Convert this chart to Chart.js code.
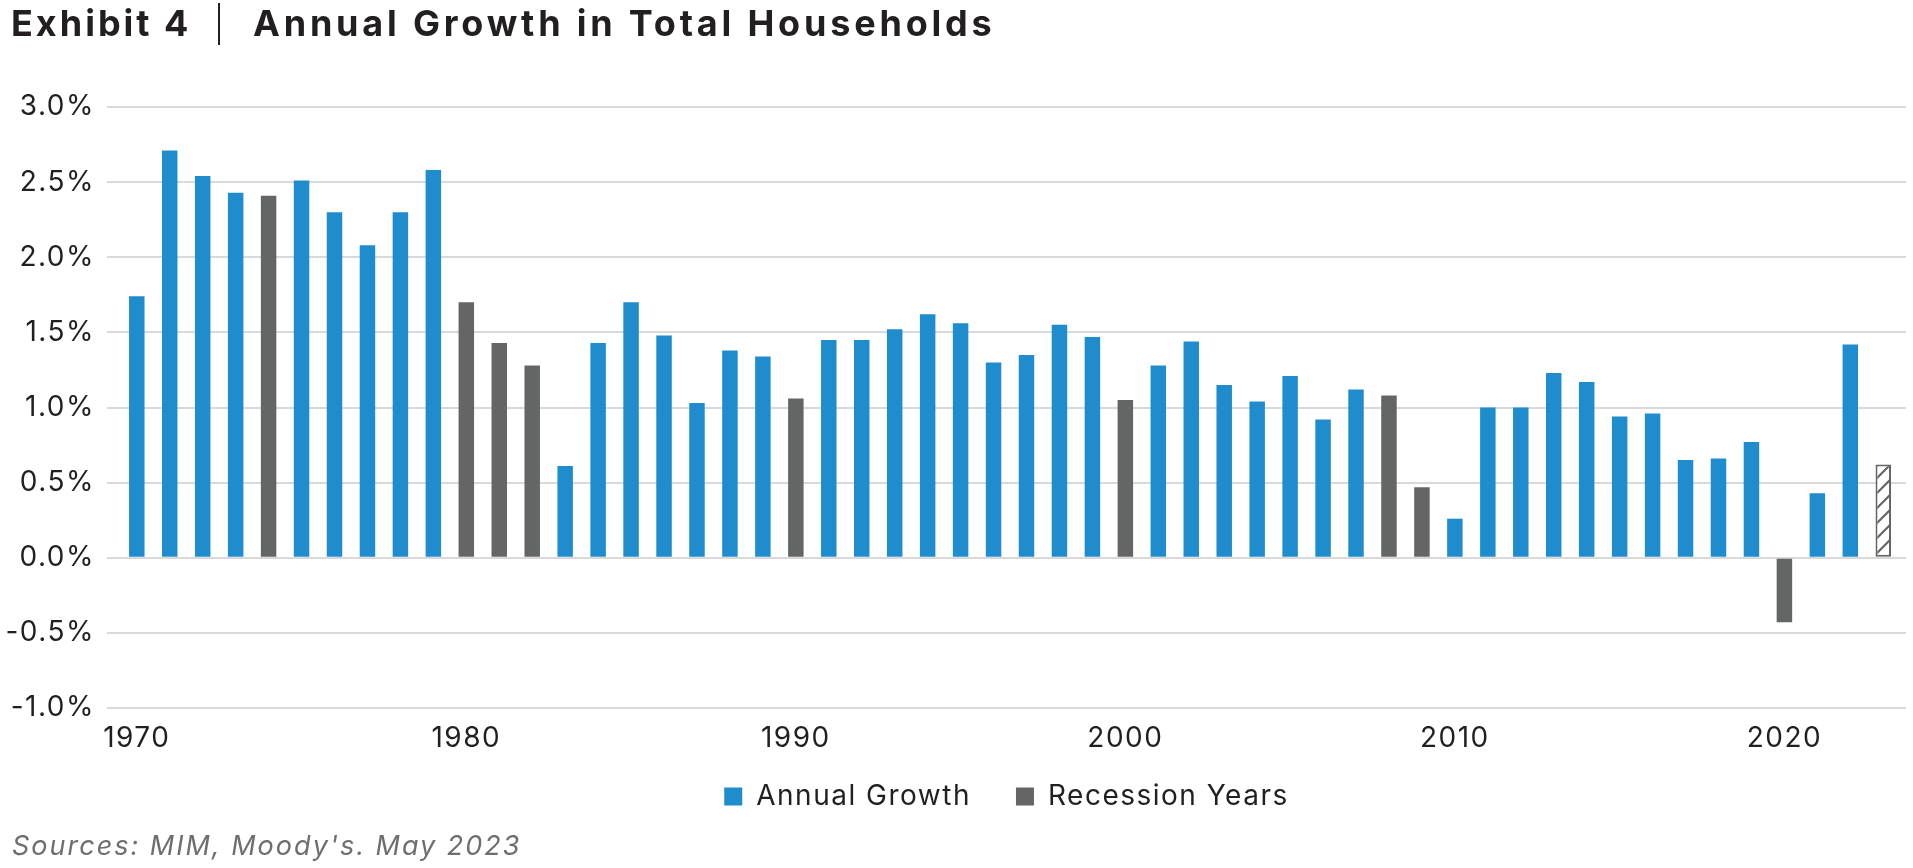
<!DOCTYPE html>
<html>
<head>
<meta charset="utf-8">
<script src="https://cdn.jsdelivr.net/npm/chart.js@4.4.1/dist/chart.umd.min.js"></script>
<style>
  html, body { margin: 0; padding: 0; background: #ffffff; }
  #wrap { position: relative; width: 1913px; height: 868px; overflow: hidden; }
  #chart { position: absolute; left: 0; top: 0; }
  .t { position: absolute; top: 5px; font-family: Inter, sans-serif; font-weight: 700; font-size: 36px; line-height: 36px; color: #231f20; white-space: nowrap; }
  #pipe { position: absolute; left: 218px; top: 3px; width: 2px; height: 42px; font-size: 0; color: transparent; background: #231f20; }
  #src { position: absolute; left: 12px; top: 832px; font-family: Inter, sans-serif; font-style: italic; font-size: 27px; line-height: 27px; letter-spacing: 2px; color: #6d6e71; white-space: nowrap; }
</style>
</head>
<body>
<div id="wrap">
  <canvas id="chart" width="1913" height="868"></canvas>
  <div class="t" id="t1" style="left:11px; letter-spacing:3px;">Exhibit 4</div>
  <div id="pipe">|</div>
  <div class="t" id="t2" style="left:253px; letter-spacing:3.8px;">Annual Growth in Total Households</div>
  <div id="src">Sources: MIM, Moody's. May 2023</div>
</div>
<script>
// ---- data ----
const years = [1970,1971,1972,1973,1974,1975,1976,1977,1978,1979,
               1980,1981,1982,1983,1984,1985,1986,1987,1988,1989,
               1990,1991,1992,1993,1994,1995,1996,1997,1998,1999,
               2000,2001,2002,2003,2004,2005,2006,2007,2008,2009,
               2010,2011,2012,2013,2014,2015,2016,2017,2018,2019,
               2020,2021,2022,2023];
const growth = [1.74,2.71,2.54,2.43,2.41,2.51,2.30,2.08,2.30,2.58,
                1.70,1.43,1.28,0.61,1.43,1.70,1.48,1.03,1.38,1.34,
                1.06,1.45,1.45,1.52,1.62,1.56,1.30,1.35,1.55,1.47,
                1.05,1.28,1.44,1.15,1.04,1.21,0.92,1.12,1.08,0.47,
                0.26,1.00,1.00,1.23,1.17,0.94,0.96,0.65,0.66,0.77,
                -0.43,0.43,1.42,0.62];
const recessionYears = [1974,1980,1981,1982,1990,2000,2008,2009,2020];
const forecastYears = [2023];
const seriesNames = ['Annual Growth', 'Recession Years', 'Forecast'];
const xTickStep = 10;
const yMin = -1.0, yMax = 3.0, yStep = 0.5;

// ---- build datasets ----
const pts = (filterFn) => years.map((y, i) => ({x: y, y: growth[i]})).filter(p => filterFn(p.x));
const annualPts = pts(y => !recessionYears.includes(y) && !forecastYears.includes(y));
const recessionPts = pts(y => recessionYears.includes(y));
const forecastPts = pts(y => forecastYears.includes(y));

// hatch pattern for forecast bar
const T = 15;
const pc = document.createElement('canvas');
pc.width = T; pc.height = T;
const pctx = pc.getContext('2d');
pctx.fillStyle = '#ffffff'; pctx.fillRect(0, 0, T, T);
pctx.strokeStyle = '#646665'; pctx.lineWidth = 2.2;
pctx.beginPath();
pctx.moveTo(0, T); pctx.lineTo(T, 0);
pctx.moveTo(-T/2, T/2); pctx.lineTo(T/2, -T/2);
pctx.moveTo(T/2, T*1.5); pctx.lineTo(T*1.5, T/2);
pctx.stroke();
const hatch = document.getElementById('chart').getContext('2d').createPattern(pc, 'repeat');

const BLUE = '#1f8dcd', GRAY = '#646665', TEXT = '#231f20', GRID = '#d9d9d9';
const FONT = 'Inter';
const SPACING = '1.5px';
const LEGEND_LIFT = 22.5;

const spacingPlugin = {
  id: 'letterSpacing',
  beforeUpdate(chart) { chart.ctx.letterSpacing = SPACING; },
  beforeLayout(chart) { chart.ctx.letterSpacing = SPACING; },
  afterLayout(chart) {
    // lift the legend up so it sits right below the year labels
    if (chart.legend) { chart.legend.top -= LEGEND_LIFT; chart.legend.bottom -= LEGEND_LIFT; }
  },
  beforeDraw(chart) { chart.ctx.letterSpacing = SPACING; }
};

const chart = new Chart(document.getElementById('chart'), {
  type: 'bar',
  data: {
    datasets: [
      { label: seriesNames[0], data: annualPts, backgroundColor: BLUE, borderWidth: 0, grouped: false, barPercentage: 0.47, categoryPercentage: 1.0 },
      { label: seriesNames[1], data: recessionPts, backgroundColor: GRAY, borderWidth: 0, grouped: false, barPercentage: 0.47, categoryPercentage: 1.0 },
      { label: seriesNames[2], data: forecastPts, backgroundColor: hatch, borderColor: GRAY, borderWidth: 2, borderSkipped: false, grouped: false, barPercentage: 0.47, categoryPercentage: 1.0 }
    ]
  },
  options: {
    responsive: false,
    animation: false,
    devicePixelRatio: 1,
    layout: { padding: { left: 0, right: 7, top: 107, bottom: 28 } },
    plugins: {
      legend: {
        position: 'bottom',
        fullSize: false,
        labels: {
          filter: (item) => item.datasetIndex !== 2,
          boxWidth: 18, boxHeight: 18, padding: 45,
          color: TEXT, font: { family: FONT, size: 28 }
        }
      },
      tooltip: { enabled: false },
      title: { display: false }
    },
    scales: {
      x: {
        type: 'linear',
        min: 1969.096, max: 2023.69,
        offset: false,
        grid: { display: false, drawTicks: false },
        border: { display: false },
        ticks: {
          stepSize: xTickStep, includeBounds: false, autoSkip: false, maxRotation: 0,
          padding: 14, color: TEXT, font: { family: FONT, size: 28 },
          callback: (v) => String(v)
        },
        afterFit: (s) => { s.height = 52; }
      },
      y: {
        min: yMin, max: yMax,
        grid: { color: GRID, lineWidth: 2, drawTicks: false },
        border: { display: false },
        ticks: {
          stepSize: yStep, padding: 12, color: TEXT, font: { family: FONT, size: 28 },
          callback: (v) => v.toFixed(1) + '%'
        },
        afterFit: (s) => { s.width = 107; }
      }
    }
  },
  plugins: [spacingPlugin]
});

// fix the legend box height (tall enough so its clip keeps the text)
const origFit = chart.legend.fit;
chart.legend.fit = function () { origFit.call(this); this.height = 80; };
chart.update();
</script>
</body>
</html>
